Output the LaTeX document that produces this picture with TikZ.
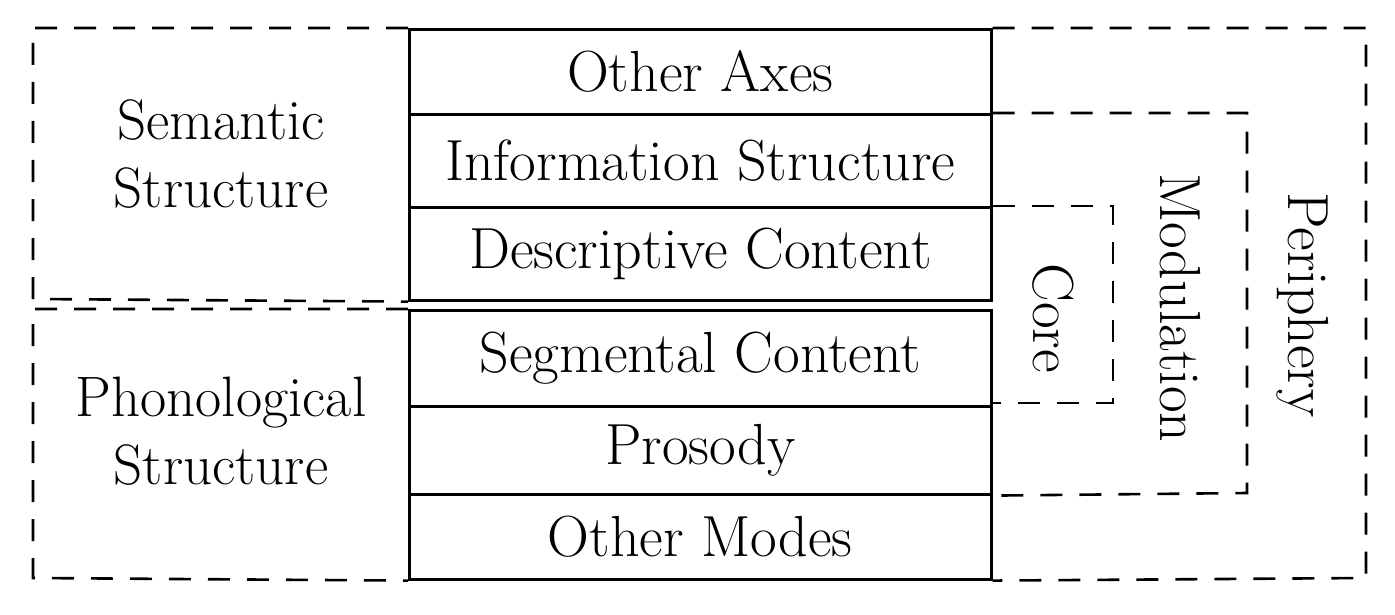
\documentclass[tikz,border=0pt]{standalone}
\begin{document}
\begin{tikzpicture}[x=1pt,y=-1pt,
  row/.style={draw,line width=2.6pt,minimum width=582pt,inner sep=0pt,anchor=north west,font=\fontsize{58}{66}\selectfont},
  region/.style={line width=2.6pt,dash pattern=on 22pt off 17pt},
  lbl/.style={align=center,inner sep=0pt,font=\fontsize{57}{68}\selectfont},
  vlbl/.style={rotate=-90,inner sep=0pt,font=\fontsize{58}{66}\selectfont}]
\useasboundingbox (0,0) rectangle (1395,615);
% central column of strata
\node[row,minimum height=85pt] (axes) at (408,28) {Other Axes};
\node[row,minimum height=93pt] (info) at (408,113) {Information Structure};
\node[row,minimum height=93pt] (desc) at (408,206) {Descriptive Content};
\node[row,minimum height=96pt] (seg)  at (408,309) {Segmental Content};
\node[row,minimum height=88pt] (pros) at (408,405) {Prosody};
\node[row,minimum height=85pt] (modes) at (408,493) {Other Modes};
% left groupings
\draw[region] (axes.north west) -- (33,28) -- (33,299) -- (desc.south west);
\draw[region] (seg.north west) -- (33,309) -- (33,578) -- (modes.south west);
\node[lbl] (sem) at (221,154) {Semantic\\Structure};
\node[lbl] (phon) at (221,431) {Phonological\\Structure};
% right groupings
\draw[region] (desc.north east) -- (1113,206) -- (1113,403) -- (990,403);
\draw[region] (info.north east) -- (1247,113) -- (1247,493) -- (pros.south east);
\draw[region] (axes.north east) -- (1366,28) -- (1366,578) -- (modes.south east);
\node[vlbl] (core) at (1053,318) {Core};
\node[vlbl] (modul) at (1180,308) {Modulation};
\node[vlbl] (peri) at (1303,305) {Periphery};
\end{tikzpicture}
\end{document}
